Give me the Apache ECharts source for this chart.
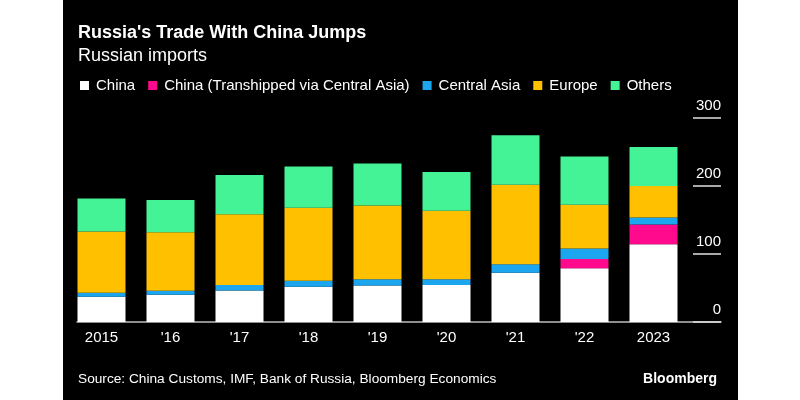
<!DOCTYPE html>
<html>
<head>
<meta charset="utf-8">
<script src="https://cdn.jsdelivr.net/npm/echarts@6/dist/echarts.min.js"></script>
<style>html,body{margin:0;padding:0;background:#fff;}#c{width:800px;height:400px;}</style>
</head>
<body>
<div id="c"></div>
<script>
const categories = ['2015', "'16", "'17", "'18", "'19", "'20", "'21", "'22", '2023'];
const china = [37, 40, 46.5, 52, 53.5, 54.5, 72.5, 79, 114.5];
const chinaTranshipped = [0, 0, 0, 0, 0, 0, 0, 13.5, 29];
const centralAsia = [6, 6, 8, 8.5, 9.5, 8.5, 12.5, 15.5, 10];
const europe = [90, 86, 104, 107.5, 108.5, 100.5, 117, 64.5, 46.5];
const others = [48.5, 47.5, 57.5, 60.5, 61.5, 57, 72.5, 71, 57.5];
const yTicks = [0, 100, 200, 300];

const FONT = "'Liberation Sans', Arial, Helvetica, sans-serif";
const seriesDefs = [
  ['China', china, '#ffffff'],
  ['China (Transhipped via Central Asia)', chinaTranshipped, '#ff0a8c'],
  ['Central Asia', centralAsia, '#1ba6ef'],
  ['Europe', europe, '#ffc000'],
  ['Others', others, '#44f396']
];

const chart = echarts.init(document.getElementById('c'), null, {renderer: 'canvas'});
chart.setOption({
  backgroundColor: '#ffffff',
  animation: false,
  graphic: [{type: 'rect', z: -10, shape: {x: 63, y: 0, width: 675, height: 400}, style: {fill: '#000000'}}],
  title: [
    {text: "Russia's Trade With China Jumps", left: 78, top: 24, padding: 0, textStyle: {color: '#fff', fontSize: 18, fontWeight: 'bold', fontFamily: FONT}},
    {text: 'Russian imports', left: 78, top: 47, padding: 0, textStyle: {color: '#fff', fontSize: 18, fontWeight: 'normal', fontFamily: FONT}},
    {text: 'Source: China Customs, IMF, Bank of Russia, Bloomberg Economics', left: 78, top: 372, padding: 0, textStyle: {color: '#fff', fontSize: 13.7, fontWeight: 'normal', fontFamily: FONT}},
    {text: 'Bloomberg', right: 83, top: 372, padding: 0, textStyle: {color: '#fff', fontSize: 14, fontWeight: 'bold', fontFamily: FONT}}
  ],
  legend: {
    left: 80, top: 78, padding: 0, itemWidth: 9, itemHeight: 9, itemGap: 13, icon: 'rect',
    textStyle: {color: '#fff', fontSize: 15, fontFamily: FONT, padding: [0, 0, 0, 2]},
    data: seriesDefs.map(d => d[0])
  },
  grid: [
    {left: 77, right: 79, top: 118, bottom: 78},
    {left: 67, right: 112, top: 118, bottom: 78}
  ],
  xAxis: [
    {gridIndex: 0, type: 'category', data: [''], axisLine: {show: true, lineStyle: {color: '#bdbdbd', width: 1.5}}, axisTick: {show: false}, axisLabel: {show: false}},
    {gridIndex: 1, type: 'category', data: categories, axisLine: {show: false}, axisTick: {show: false},
     axisLabel: {color: '#fff', fontSize: 15, fontFamily: FONT, margin: 8}}
  ],
  yAxis: [
    {gridIndex: 0, type: 'value', position: 'right', min: yTicks[0], max: yTicks[yTicks.length - 1], interval: 100,
     axisLine: {show: false}, splitLine: {show: false},
     axisTick: {show: true, inside: true, length: 28, lineStyle: {color: '#e0e0e0', width: 1.5}},
     axisLabel: {inside: true, margin: 0, color: '#fff', fontSize: 15, fontFamily: FONT, verticalAlign: 'bottom', align: 'right', padding: [0, 0, 5, 0]}},
    {gridIndex: 1, type: 'value', min: yTicks[0], max: yTicks[yTicks.length - 1], show: false}
  ],
  series: seriesDefs.map(d => ({
    name: d[0], type: 'bar', stack: 'total', xAxisIndex: 1, yAxisIndex: 1,
    barWidth: 48, data: d[1], itemStyle: {color: d[2]}
  }))
});
</script>
</body>
</html>
